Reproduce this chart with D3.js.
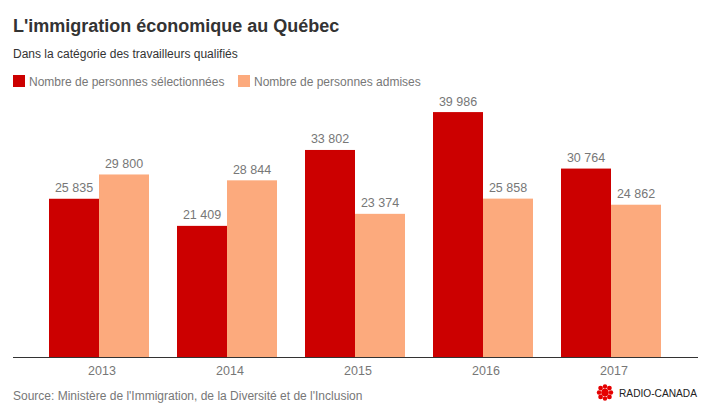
<!DOCTYPE html>
<html><head><meta charset="utf-8">
<script src="https://cdn.jsdelivr.net/npm/d3@7/dist/d3.min.js"></script>
<style>
body{margin:0;background:#fff;}
svg{display:block;font-family:Arial,"Liberation Sans",sans-serif;}
</style></head>
<body>
<script>
const years = ["2013","2014","2015","2016","2017"];
const selected = [25835, 21409, 33802, 39986, 30764];
const admitted = [29800, 28844, 23374, 25858, 24862];
const seriesNames = ["Nombre de personnes sélectionnées","Nombre de personnes admises"];
const seriesColors = ["#cc0000","#fcaa7d"];
const title = "L'immigration économique au Québec";
const subtitle = "Dans la catégorie des travailleurs qualifiés";
const source = "Source: Ministère de l'Immigration, de la Diversité et de l'Inclusion";

const W = 712, H = 414;
const svg = d3.select("body").append("svg").attr("width", W).attr("height", H);

svg.append("text").attr("x",13).attr("y",31.5).attr("fill","#333")
  .attr("font-size",18).attr("font-weight","bold").text(title);
svg.append("text").attr("x",13).attr("y",58).attr("fill","#333")
  .attr("font-size",12).text(subtitle);

// legend
const legX = [13, 238];
seriesNames.forEach((n,i)=>{
  svg.append("rect").attr("x",legX[i]).attr("y",75).attr("width",12).attr("height",12).attr("fill",seriesColors[i]);
  svg.append("text").attr("x",legX[i]+16).attr("y",85.5).attr("fill","#777").attr("font-size",12).text(n);
});

const x = d3.scaleBand().domain(years).range([35,675]).paddingInner(0).paddingOuter(0);
const groupW = 100;
const xs = d3.scaleBand().domain([0,1]).range([0,groupW]);
const y = d3.scaleLinear().domain([0,40000]).range([357,112]);
const fmt = v => d3.format(",")(v).replace(/,/g," ");

const data = years.map((yr,i)=>({yr, vals:[selected[i],admitted[i]]}));
const g = svg.append("g");
data.forEach(d=>{
  const gx = x(d.yr) + x.bandwidth()/2 - groupW/2;
  d.vals.forEach((v,j)=>{
    g.append("rect").attr("x",gx+xs(j)).attr("y",y(v)).attr("width",xs.bandwidth()).attr("height",y(0)-y(v)).attr("fill",seriesColors[j]);
    g.append("text").attr("x",gx+xs(j)+xs.bandwidth()/2).attr("y",y(v)-6.5)
      .attr("text-anchor","middle").attr("fill","#777").attr("font-size",12.5).text(fmt(v));
  });
});

// axis
const axis = svg.append("g").attr("transform","translate(3,357)")
  .call(d3.axisBottom(x).tickSize(0).tickPadding(9));
axis.select(".domain").remove();
axis.selectAll("text").attr("font-size",12.5).attr("fill","#777").attr("font-family","Arial,'Liberation Sans',sans-serif").attr("dy","0.71em");
svg.append("line").attr("x1",13).attr("x2",698).attr("y1",357.5).attr("y2",357.5).attr("stroke","#333").attr("stroke-width",1);

// source
svg.append("text").attr("x",13).attr("y",400).attr("fill","#777").attr("font-size",12).text(source);

// logo
const lg = svg.append("g").attr("transform","translate(605,392.5)").attr("fill","#e50000");
lg.append("circle").attr("r",3.8);
[[0,-6],[0,6],[-6,0],[6,0]].forEach(p=>lg.append("circle").attr("cx",p[0]).attr("cy",p[1]).attr("r",2.2));
[[-4.4,-4.4],[4.4,-4.4],[-4.4,4.4],[4.4,4.4]].forEach(p=>lg.append("circle").attr("cx",p[0]).attr("cy",p[1]).attr("r",2.4));
svg.append("text").attr("x",619).attr("y",396.5).attr("fill","#222").attr("font-size",10.5)
  .attr("textLength",78).attr("lengthAdjust","spacingAndGlyphs").text("RADIO-CANADA");
</script>
</body></html>
